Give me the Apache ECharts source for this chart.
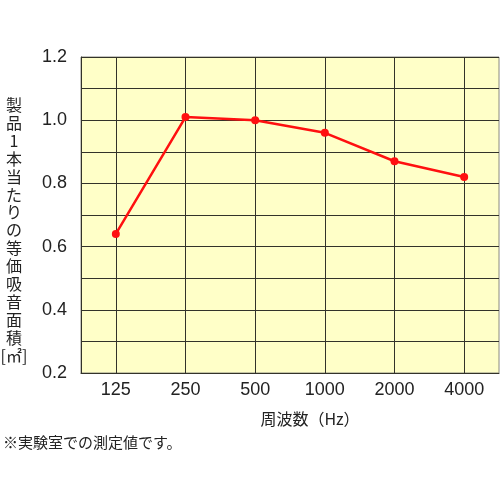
<!DOCTYPE html>
<html>
<head>
<meta charset="utf-8">
<script src="https://cdn.jsdelivr.net/npm/echarts@6/dist/echarts.min.js"></script>
<style>
  html, body { margin: 0; padding: 0; background: #fff; }
  #main { width: 500px; height: 500px; }
</style>
</head>
<body>
<div id="main"></div>
<script>
const frequencies = ["125", "250", "500", "1000", "2000", "4000"];
const absorption = [0.64, 1.01, 1.00, 0.96, 0.87, 0.82];
const yTitleChars = ["製", "品", "1", "本", "当", "た", "り", "の", "等", "価", "吸", "音", "面", "積", "[㎡]"];
const xTitle = "周波数（Hz）";
const footnote = "※実験室での測定値です。";

const JP_FONT = "'Noto Sans CJK JP', sans-serif";
const NUM_FONT = "'Liberation Sans', Arial, sans-serif";

const chart = echarts.init(document.getElementById("main"));
chart.setOption({
  animation: false,
  grid: {
    left: 81,
    right: 1,
    top: 57,
    bottom: 127,
    show: true,
    backgroundColor: "#FFFFC8",
    borderColor: "#8a8a80",
    borderWidth: 1
  },
  xAxis: {
    type: "category",
    data: frequencies,
    boundaryGap: true,
    axisLine: { lineStyle: { color: "#33332a", width: 1 } },
    axisTick: { show: false },
    axisLabel: { color: "#222", fontSize: 18, fontFamily: NUM_FONT, margin: 8 },
    splitLine: {
      show: true,
      alignWithLabel: true,
      lineStyle: { color: "#33332a", width: 1 }
    }
  },
  yAxis: {
    type: "value",
    min: 0.2,
    max: 1.2,
    interval: 0.1,
    axisLine: { show: true, lineStyle: { color: "#33332a", width: 1 } },
    axisTick: { show: false },
    axisLabel: {
      color: "#222",
      fontSize: 18,
      fontFamily: NUM_FONT,
      margin: 14,
      formatter: function (v, i) {
        return i % 2 === 0 ? v.toFixed(1) : "";
      }
    },
    splitLine: { show: true, lineStyle: { color: "#33332a", width: 1 } }
  },
  series: [
    {
      type: "line",
      data: absorption,
      symbol: "circle",
      symbolSize: 8,
      lineStyle: { color: "#FF1010", width: 2.5 },
      itemStyle: { color: "#FF1010" }
    }
  ],
  graphic: [
    {
      type: "text",
      x: 14,
      y: 96,
      style: {
        text: yTitleChars.join("\n"),
        fontSize: 16,
        lineHeight: 17.9,
        fontFamily: JP_FONT,
        fill: "#222",
        align: "center",
        verticalAlign: "top"
      }
    },
    {
      type: "text",
      x: 310,
      y: 419,
      style: {
        text: xTitle,
        fontSize: 16,
        fontFamily: JP_FONT,
        fill: "#222",
        align: "center",
        verticalAlign: "middle"
      }
    },
    {
      type: "text",
      x: 3,
      y: 442,
      style: {
        text: footnote,
        fontSize: 15,
        fontFamily: JP_FONT,
        fill: "#222",
        align: "left",
        verticalAlign: "middle"
      }
    }
  ]
});
</script>
</body>
</html>
